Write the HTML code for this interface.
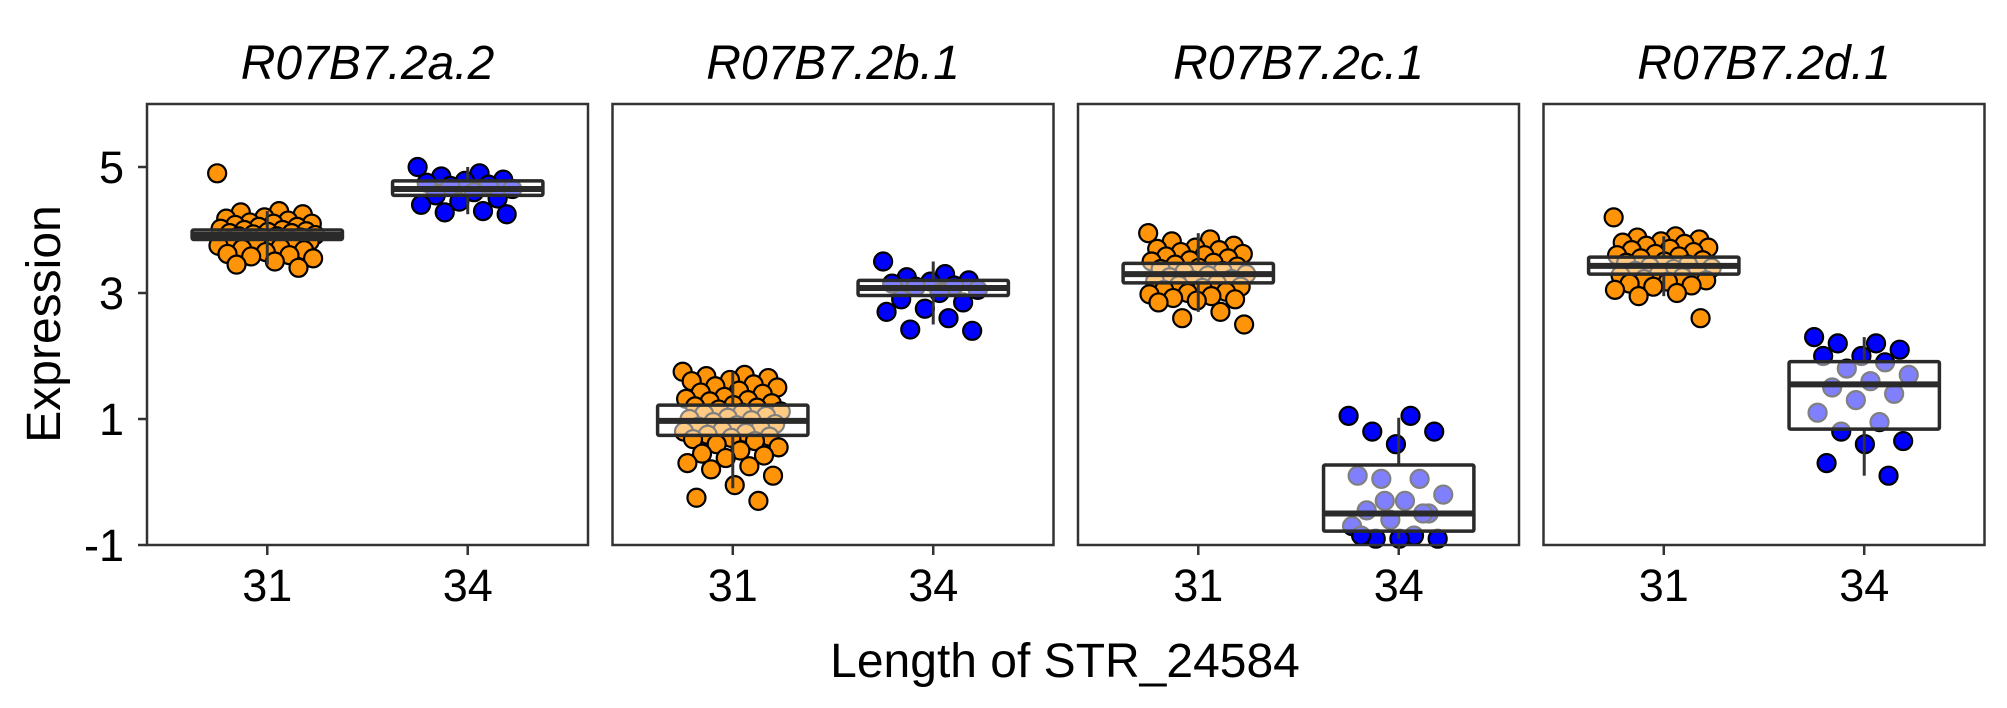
<!DOCTYPE html>
<html><head><meta charset="utf-8">
<style>
html,body{margin:0;padding:0;background:#fff;}
svg{display:block;font-family:"Liberation Sans",Arial,sans-serif;}
</style></head>
<body>
<svg id="chart" width="2007" height="708" viewBox="0 0 2007 708" xmlns="http://www.w3.org/2000/svg">
<text x="0" y="0" transform="translate(60,324) rotate(-90)" text-anchor="middle" font-size="48" fill="#000">Expression</text>
<text x="1065" y="677" text-anchor="middle" font-size="48" fill="#000">Length of STR_24584</text>
</svg>
<script>
const panelTitles = ["R07B7.2a.2","R07B7.2b.1","R07B7.2c.1","R07B7.2d.1"];
const categories = ["31","34"];
const yTicks = [5,3,1,-1];
// box stats per panel per group: [lowWhisker, q1, median, q3, highWhisker]
const boxes31 = [[3.45,3.85,3.92,4.0,4.3],[-0.1,0.74,0.97,1.22,1.75],[2.7,3.16,3.3,3.47,3.95],[2.95,3.3,3.43,3.57,3.9]];
const boxes34 = [[4.25,4.55,4.65,4.78,5.0],[2.5,2.96,3.08,3.2,3.5],[-0.9,-0.78,-0.5,0.27,1.02],[0.1,0.84,1.55,1.91,2.3]];
const points31 = [
[4.9,4.3,4.28,4.25,4.2,4.18,4.15,4.12,4.1,4.1,4.08,4.05,4.05,4.02,4.0,4.0,3.98,3.97,3.95,3.95,3.93,3.92,3.9,3.9,3.88,3.87,3.85,3.85,3.83,3.82,3.8,3.8,3.78,3.77,3.75,3.72,3.7,3.68,3.65,3.62,3.6,3.58,3.55,3.5,3.45,3.4],
[1.75,1.7,1.68,1.65,1.62,1.6,1.55,1.52,1.5,1.45,1.42,1.4,1.35,1.32,1.3,1.28,1.25,1.22,1.2,1.18,1.15,1.12,1.1,1.08,1.05,1.02,1.0,0.98,0.95,0.92,0.9,0.88,0.85,0.82,0.8,0.78,0.75,0.72,0.7,0.68,0.65,0.6,0.55,0.5,0.45,0.42,0.38,0.3,0.25,0.2,0.1,-0.05,-0.25,-0.3],
[3.95,3.85,3.82,3.75,3.72,3.7,3.68,3.65,3.62,3.6,3.58,3.55,3.52,3.5,3.48,3.45,3.42,3.4,3.38,3.35,3.33,3.3,3.28,3.25,3.22,3.2,3.18,3.15,3.12,3.1,3.08,3.05,3.02,3.0,2.98,2.95,2.92,2.9,2.88,2.85,2.7,2.6,2.5],
[4.2,3.9,3.88,3.85,3.82,3.8,3.78,3.75,3.72,3.7,3.68,3.65,3.62,3.6,3.58,3.55,3.52,3.5,3.48,3.45,3.42,3.4,3.38,3.35,3.32,3.3,3.28,3.25,3.22,3.2,3.18,3.15,3.12,3.1,3.05,3.0,2.95,2.6]
];
const points34 = [
[5.0,4.9,4.85,4.8,4.78,4.75,4.72,4.7,4.65,4.6,4.55,4.5,4.45,4.4,4.3,4.28,4.25],
[3.5,3.3,3.25,3.2,3.18,3.15,3.12,3.1,3.05,3.0,2.9,2.85,2.75,2.7,2.6,2.42,2.4],
[1.05,1.05,0.8,0.8,0.6,0.1,0.05,0.05,-0.2,-0.3,-0.45,-0.5,-0.6,-0.7,-0.85,-0.9,-0.9,-0.9,-0.85,-0.5,-0.3],
[2.3,2.2,2.2,2.1,2.0,2.0,1.9,1.8,1.7,1.6,1.5,1.4,1.3,1.1,0.95,0.8,0.65,0.6,0.3,0.1]
];

const NS="http://www.w3.org/2000/svg";
const svg=document.getElementById('chart');
const PT=104, PB=545, PW=441, PL0=147, PITCH=465.5;
const yMin=-1, yMax=6;
function yScale(v){return PB-(v-yMin)/(yMax-yMin)*(PB-PT);}
function panelLeft(p){return PL0+p*PITCH;}
function xScale(p,ci){return panelLeft(p)+PW*(0.6+ci)/2.2;}
const band=PW/2.2;
function mk(tag,attrs,parent){const e=document.createElementNS(NS,tag);for(const k in attrs)e.setAttribute(k,attrs[k]);(parent||svg).appendChild(e);return e;}

// y ticks
yTicks.forEach(t=>{
  const y=yScale(t);
  const l=mk('line',{x1:PL0-9,x2:PL0,y1:y,y2:y,stroke:'#333','stroke-width':2.5});
  
  
  const tx=mk('text',{x:PL0-23,y:y+16,'text-anchor':'end','font-size':45,fill:'#000'});
  tx.textContent=String(t);
  
  
});

function drawPoints(p,ci,vals,fill){
  vals.forEach((v,i)=>{
    const j=(((i*0.6180339)%1)-0.5)*2*0.25*band;
    const c=mk('circle',{cx:xScale(p,ci)+j,cy:yScale(v),r:9,fill:fill,stroke:'#000','stroke-width':2.2});
    
    
  });
}
function drawBox(p,ci,s){
  const cx=xScale(p,ci), w=0.75*band;
  const g=mk('g',{});
  
  
  mk('line',{x1:cx,x2:cx,y1:yScale(s[0]),y2:yScale(s[1]),stroke:'#333','stroke-width':3},g);
  mk('line',{x1:cx,x2:cx,y1:yScale(s[3]),y2:yScale(s[4]),stroke:'#333','stroke-width':3},g);
  mk('rect',{x:cx-w/2,y:yScale(s[3]),width:w,height:yScale(s[1])-yScale(s[3]),fill:'rgba(255,255,255,0.5)',stroke:'#2a2a2a','stroke-width':3.5,rx:1.5},g);
  mk('line',{x1:cx-w/2,x2:cx+w/2,y1:yScale(s[2]),y2:yScale(s[2]),stroke:'#2a2a2a','stroke-width':6},g);
}

panelTitles.forEach((title,p)=>{
  const L=panelLeft(p);
  const t=mk('text',{x:L+PW/2,y:79,'text-anchor':'middle','font-size':48,'font-style':'italic',fill:'#000'});
  t.textContent=title;
  
  
  drawPoints(p,0,points31[p],'#ff9408');
  drawPoints(p,1,points34[p],'#0000ff');
  drawBox(p,0,boxes31[p]);
  drawBox(p,1,boxes34[p]);
  const r=mk('rect',{x:L,y:PT,width:PW,height:PB-PT,fill:'none',stroke:'#333','stroke-width':2.5});
  
  
  categories.forEach((c,ci)=>{
    const x=xScale(p,ci);
    const tk=mk('line',{x1:x,x2:x,y1:PB,y2:PB+10,stroke:'#333','stroke-width':2.5});
    
    
    const tl=mk('text',{x:x,y:601,'text-anchor':'middle','font-size':45,fill:'#000'});
    tl.textContent=c;
    
    
  });
});
</script>
</body></html>
